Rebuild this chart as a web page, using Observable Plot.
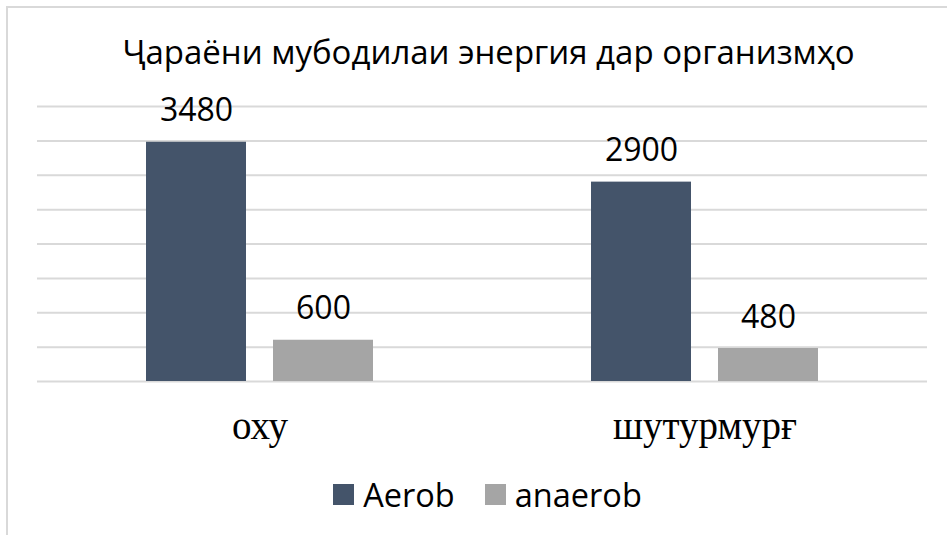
<!DOCTYPE html>
<html>
<head>
<meta charset="utf-8">
<script src="https://cdn.jsdelivr.net/npm/d3@7"></script>
<script src="https://cdn.jsdelivr.net/npm/@observablehq/plot@0.6"></script>
<style>
  body { margin: 0; background: #fff; }
  #wrap { position: relative; width: 947px; height: 535px; overflow: hidden; background: #fff; }
  #frame { position: absolute; left: 6px; top: 6px; width: 960px; height: 560px; border-top: 2px solid #d9d9d9; border-left: 2px solid #d9d9d9; }
  #title { position: absolute; left: 15px; width: 947px; top: 29px; text-align: center; font-family: "Open Sans", sans-serif; font-size: 33px; color: #000; white-space: nowrap; }
  #chart { position: absolute; left: 0; top: 0; }
  #legend { position: absolute; left: 14px; width: 947px; top: 472px; display: flex; justify-content: center; align-items: center; font-family: "Open Sans", sans-serif; font-size: 32.5px; color: #000; }
  .item { display: flex; align-items: center; margin: 0 15px; }
  .sw { width: 21px; height: 21px; margin-right: 9px; }
</style>
</head>
<body>
<div id="wrap">
  <div id="frame"></div>
  <div id="chart"></div>
  <div id="title"></div>
  <div id="legend"></div>
</div>
<script>
const titleText = "Ҷараёни мубодилаи энергия дар организмҳо";
const categories = ["оху", "шутурмурғ"];
const series = ["Aerob", "anaerob"];
const aerobValues = [3480, 2900];
const anaerobValues = [600, 480];
const gridTicks = [0, 500, 1000, 1500, 2000, 2500, 3000, 3500, 4000];
const colors = ["#44546a", "#a5a5a5"];

const data = [];
categories.forEach((c, i) => {
  data.push({cat: c, series: series[0], value: aerobValues[i]});
  data.push({cat: c, series: series[1], value: anaerobValues[i]});
});

document.getElementById("title").textContent = titleText;

const chart = Plot.plot({
  width: 947,
  height: 462,
  marginLeft: 37,
  marginRight: 20,
  marginTop: 106,
  marginBottom: 81,
  style: {background: "transparent", overflow: "visible"},
  fx: {domain: categories, padding: 0, label: null},
  x: {domain: series, paddingInner: 0.2126, paddingOuter: 0.858, axis: null},
  y: {domain: [0, 4000], axis: null},
  color: {domain: series, range: colors},
  marks: [
    Plot.ruleY(gridTicks, {y: d => d, stroke: "#d9d9d9", strokeWidth: 2}),
    Plot.barY(data, {fx: "cat", x: "series", y: "value", fill: "series"}),
    Plot.text(data, {fx: "cat", x: "series", y: "value", text: d => String(d.value), dy: -21, lineAnchor: "bottom", fontSize: 32, fontFamily: "Open Sans, sans-serif", fill: "#000"}),
    Plot.axisFx({anchor: "bottom", tickSize: 0, tickPadding: 57, fontSize: 39, fontFamily: "Liberation Serif, serif", label: null, fill: "#000", lineAnchor: "bottom"})
  ]
});
document.getElementById("chart").appendChild(chart);

const legend = document.getElementById("legend");
series.forEach((s, i) => {
  const item = document.createElement("div");
  item.className = "item";
  const sw = document.createElement("div");
  sw.className = "sw";
  sw.style.background = colors[i];
  const label = document.createElement("span");
  label.textContent = s;
  item.appendChild(sw);
  item.appendChild(label);
  legend.appendChild(item);
});
</script>
</body>
</html>
